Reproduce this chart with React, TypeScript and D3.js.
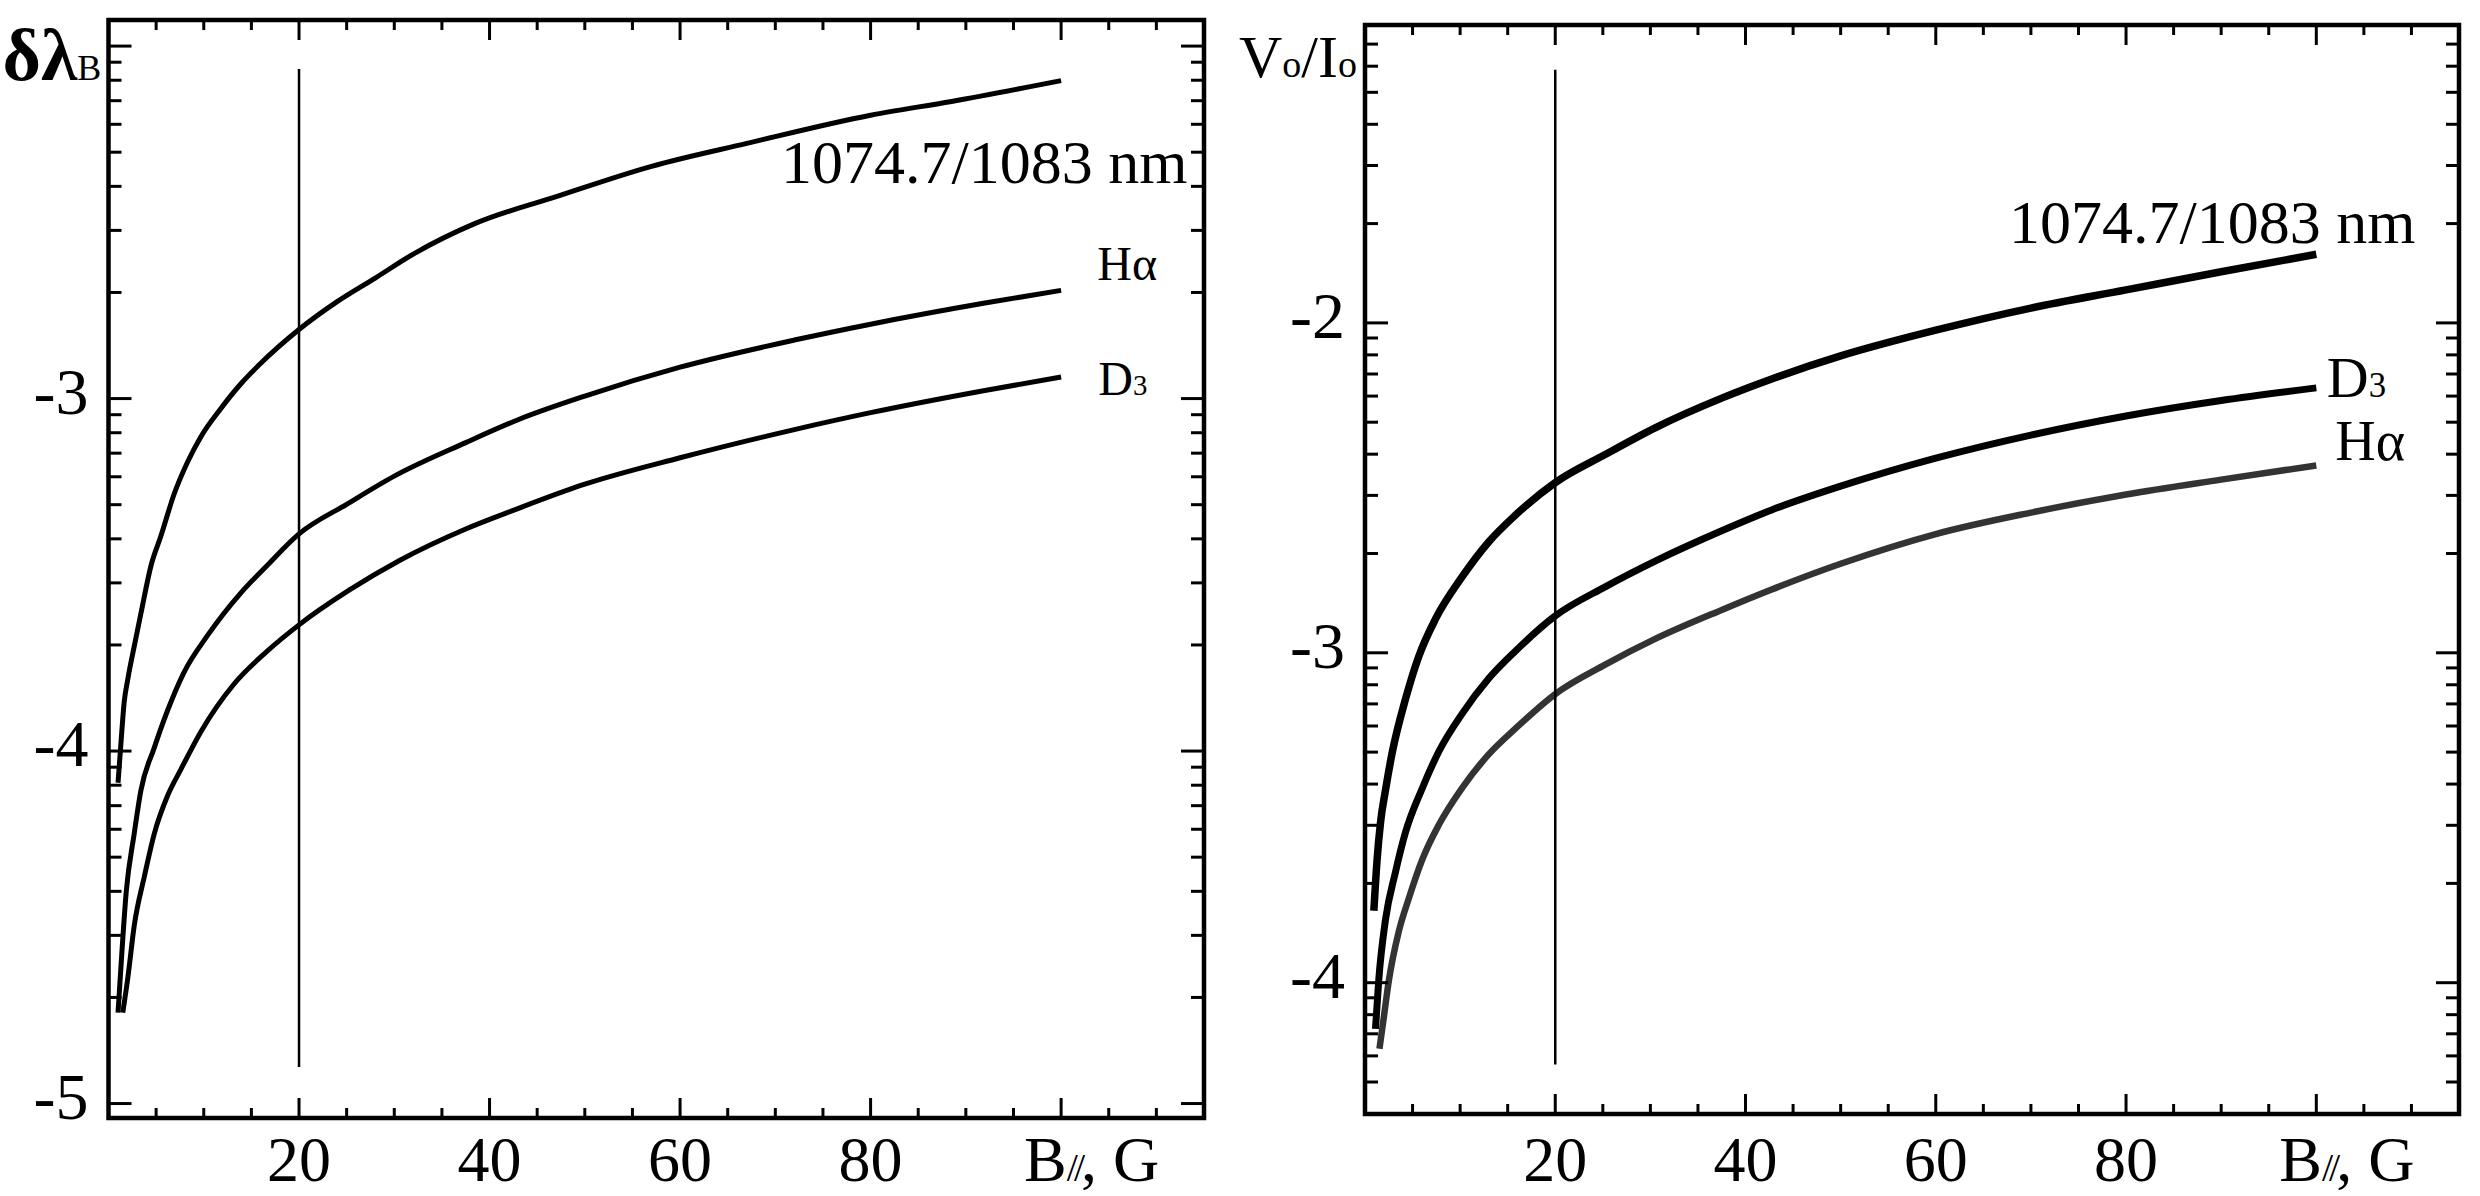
import * as d3 from 'd3';

const WIDTH = 2480;
const HEIGHT = 1196;
const FONT = '"Liberation Serif", "Times New Roman", serif';

// x axis, B in gauss
const B_MAX = 115;
const bTickLabels = [20, 40, 60, 80];
const bMarker = 20;

// left panel: delta lambda_B, log10 axis (values are exponents)
const leftExpDomain = [-5.041, -1.926];
const leftYTickLabels = [-3, -4, -5];
const leftMarkerSpan = [-4.896, -2.065];

const leftHeB = [1.0, 1.3, 1.65, 2.0, 2.8, 3.4, 4.5, 5.5, 6.9, 8.3, 9.7, 11.8, 13.9, 15.9, 20, 24, 28, 32, 38.5, 47, 57, 67, 80, 88.5, 100];
const leftHeExp = [-4.09, -3.98, -3.86, -3.8, -3.69, -3.61, -3.47, -3.39, -3.27, -3.18, -3.108, -3.028, -2.958, -2.902, -2.804, -2.725, -2.658, -2.59, -2.503, -2.427, -2.341, -2.276, -2.196, -2.157, -2.098];

const leftHaB = [1.0, 1.1, 1.34, 1.86, 2.7, 3.4, 4.8, 6.2, 7.9, 10.4, 13.9, 16.6, 20, 25, 30, 37.5, 43, 50, 60, 72, 80, 92, 100];
const leftHaExp = [-4.742, -4.7, -4.598, -4.4, -4.234, -4.112, -3.991, -3.885, -3.778, -3.672, -3.551, -3.475, -3.384, -3.3, -3.22, -3.125, -3.06, -2.993, -2.911, -2.834, -2.789, -2.729, -2.693];

const leftD3B = [1.5, 2.03, 2.72, 3.77, 4.81, 6.2, 7.6, 9.7, 13.2, 16.6, 20, 25.3, 30.5, 37.5, 42.7, 50, 60, 72, 80, 92, 100];
const leftD3Exp = [-4.742, -4.643, -4.492, -4.355, -4.234, -4.127, -4.052, -3.945, -3.809, -3.718, -3.642, -3.543, -3.46, -3.37, -3.315, -3.243, -3.168, -3.088, -3.04, -2.977, -2.939];

// right panel: Vo/Io, log10 axis
const rightExpDomain = [-4.398, -1.097];
const rightYTickLabels = [-2, -3, -4];
const rightMarkerSpan = [-4.248, -1.233];

const rightHeB = [0.93, 1.27, 1.63, 2.15, 2.85, 4.25, 5.65, 7.4, 10.2, 13, 15.8, 20, 25.25, 30.5, 37.5, 42.75, 50, 60, 70, 80, 90, 100];
const rightHeExp = [-3.782, -3.628, -3.515, -3.417, -3.304, -3.141, -3.011, -2.898, -2.77, -2.664, -2.583, -2.484, -2.399, -2.318, -2.228, -2.17, -2.1, -2.022, -1.955, -1.9, -1.845, -1.792];

const rightD3B = [1.1, 1.45, 2.15, 3.2, 4.25, 6.0, 7.75, 10.2, 13, 15.8, 20, 25.25, 30.5, 37.5, 42.75, 50, 60, 70, 80, 90, 100];
const rightD3Exp = [-4.14, -3.99, -3.81, -3.665, -3.545, -3.412, -3.3, -3.185, -3.078, -2.995, -2.888, -2.8, -2.722, -2.63, -2.567, -2.495, -2.41, -2.34, -2.282, -2.235, -2.197];

const rightHaB = [1.52, 2.0, 2.5, 3.55, 4.6, 6.0, 7.75, 10.2, 13, 15.8, 20, 25.25, 30.5, 37.5, 42.75, 50, 60, 70, 80, 90, 100];
const rightHaExp = [-4.2, -4.1, -3.995, -3.845, -3.745, -3.628, -3.522, -3.41, -3.308, -3.23, -3.125, -3.036, -2.958, -2.87, -2.808, -2.73, -2.64, -2.575, -2.52, -2.475, -2.432];

type Box = { x0: number; x1: number; y0: number; y1: number };
type Curve = { b: number[]; v: number[]; color: string; width: number };
type Label = { kind: 'he' | 'ha' | 'd3'; b: number; v: number; size: number };

interface PanelProps {
  box: Box;
  expDomain: number[];
  yTickLabels: number[];
  markerSpan: number[];
  curves: Curve[];
  labels: Label[];
  title: 'dl' | 'vi';
}

function Panel({ box, expDomain, yTickLabels, markerSpan, curves, labels, title }: PanelProps) {
  const x = d3.scaleLinear().domain([0, B_MAX]).range([box.x0, box.x1]);
  const y = d3
    .scaleLog()
    .domain(expDomain.map((e) => 10 ** e))
    .range([box.y1, box.y0]);

  const isDecade = (t: number) => Math.abs(Math.log10(t) - Math.round(Math.log10(t))) < 1e-6;
  const yTicks = y.ticks().filter((t) => y(t) > box.y0 + 4 && y(t) < box.y1 - 4);
  const xTicks = x.ticks(23).filter((b) => b > 0 && b < B_MAX);

  const line = d3
    .line<number[]>()
    .x((d) => x(d[0]))
    .y((d) => y(10 ** d[1]))
    .curve(d3.curveMonotoneX);

  const renderLabel = (l: Label, i: number) => {
    const px = x(l.b);
    const py = y(10 ** l.v);
    if (l.kind === 'he')
      return (
        <text key={i} x={px} y={py} fontSize={l.size}>
          1074.7/1083 nm
        </text>
      );
    if (l.kind === 'ha')
      return (
        <text key={i} x={px} y={py} fontSize={l.size}>
          Hα
        </text>
      );
    return (
      <text key={i} x={px} y={py} fontSize={l.size}>
        D<tspan fontSize={l.size * 0.6}>3</tspan>
      </text>
    );
  };

  const labelBase = 1181;

  return (
    <g fontFamily={FONT} fill="#000">
      {/* traces */}
      {curves.map((c, i) => (
        <path
          key={i}
          d={line(d3.zip(c.b, c.v)) ?? ''}
          fill="none"
          stroke={c.color}
          strokeWidth={c.width}
          strokeLinejoin="round"
        />
      ))}

      {/* B = 20 G marker */}
      <line
        x1={x(bMarker)}
        x2={x(bMarker)}
        y1={y(10 ** markerSpan[0])}
        y2={y(10 ** markerSpan[1])}
        stroke="#000"
        strokeWidth={2.5}
      />

      {/* y ticks, both sides */}
      {yTicks.map((t, i) => {
        const len = isDecade(t) ? 23 : 13;
        return (
          <g key={`y${i}`} stroke="#000" strokeWidth={3}>
            <line x1={box.x0} x2={box.x0 + len} y1={y(t)} y2={y(t)} />
            <line x1={box.x1} x2={box.x1 - len} y1={y(t)} y2={y(t)} />
          </g>
        );
      })}

      {/* x ticks, top and bottom */}
      {xTicks.map((b, i) => {
        const len = b % 20 === 0 ? 20 : 10;
        return (
          <g key={`x${i}`} stroke="#000" strokeWidth={3}>
            <line x1={x(b)} x2={x(b)} y1={box.y1} y2={box.y1 - len} />
            <line x1={x(b)} x2={x(b)} y1={box.y0} y2={box.y0 + len} />
          </g>
        );
      })}

      {/* frame */}
      <rect
        x={box.x0}
        y={box.y0}
        width={box.x1 - box.x0}
        height={box.y1 - box.y0}
        fill="none"
        stroke="#000"
        strokeWidth={4.5}
      />

      {/* y tick labels (exponents) */}
      {yTickLabels.map((e) => (
        <text key={`yl${e}`} x={box.x0 - 20} y={y(10 ** e) + 15} fontSize={66} textAnchor="end">
          {e}
        </text>
      ))}

      {/* x tick labels */}
      {bTickLabels.map((b) => (
        <text key={`xl${b}`} x={x(b)} y={labelBase} fontSize={64} textAnchor="middle">
          {b}
        </text>
      ))}
      <text x={x(100) - 37} y={labelBase} fontSize={64}>
        B<tspan fontSize={40} letterSpacing={-4}>//</tspan>, G
      </text>

      {/* curve labels */}
      {labels.map(renderLabel)}

      {/* axis title */}
      {title === 'dl' ? (
        <text x={box.x0 - 106} y={box.y0 + 60} fontSize={74}>
          <tspan fontWeight="bold">δλ</tspan>
          <tspan fontSize={36}>B</tspan>
        </text>
      ) : (
        <text x={box.x0 - 126} y={box.y0 + 52} fontSize={60}>
          V<tspan fontSize={38}>o</tspan>
          <tspan>/I</tspan>
          <tspan fontSize={38}>o</tspan>
        </text>
      )}
    </g>
  );
}

export default function App() {
  return (
    <svg
      width={WIDTH}
      height={HEIGHT}
      style={{ position: 'absolute', left: 0, top: 0, background: '#fff' }}
    >
      <Panel
        box={{ x0: 108.5, x1: 1204, y0: 20, y1: 1118 }}
        expDomain={leftExpDomain}
        yTickLabels={leftYTickLabels}
        markerSpan={leftMarkerSpan}
        curves={[
          { b: leftHeB, v: leftHeExp, color: '#000', width: 5 },
          { b: leftHaB, v: leftHaExp, color: '#000', width: 5 },
          { b: leftD3B, v: leftD3Exp, color: '#000', width: 5 },
        ]}
        labels={[
          { kind: 'he', b: 70.6, v: -2.388, size: 62 },
          { kind: 'ha', b: 103.8, v: -2.664, size: 48 },
          { kind: 'd3', b: 103.9, v: -2.99, size: 48 },
        ]}
        title="dl"
      />
      <Panel
        box={{ x0: 1365, x1: 2459, y0: 25, y1: 1114 }}
        expDomain={rightExpDomain}
        yTickLabels={rightYTickLabels}
        markerSpan={rightMarkerSpan}
        curves={[
          { b: rightHeB, v: rightHeExp, color: '#000', width: 7.5 },
          { b: rightD3B, v: rightD3Exp, color: '#000', width: 7 },
          { b: rightHaB, v: rightHaExp, color: '#333', width: 6.5 },
        ]}
        labels={[
          { kind: 'he', b: 67.7, v: -1.758, size: 62 },
          { kind: 'd3', b: 101.1, v: -2.225, size: 58 },
          { kind: 'ha', b: 102.0, v: -2.416, size: 56 },
        ]}
        title="vi"
      />
    </svg>
  );
}
